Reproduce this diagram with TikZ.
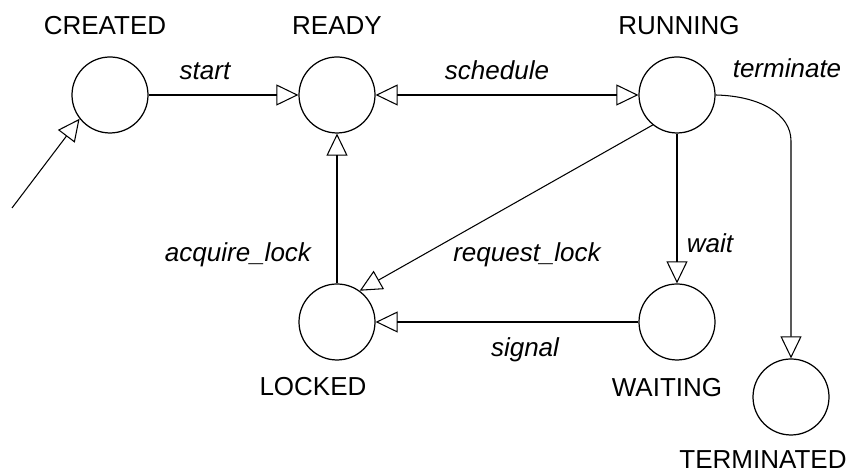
\documentclass[tikz,border=0pt]{standalone}
\usepackage{fontspec}
\setmainfont{Liberation Sans}
\usetikzlibrary{arrows.meta}

\begin{document}
\begin{tikzpicture}[
    every node/.style={font=\fontsize{14.8}{17}\selectfont},
    otri/.tip={Triangle[open, length=0.44cm, width=0.42cm]},
    state/.style={draw, circle, line width=0.7pt, minimum size=1.52cm, inner sep=0pt},
    sname/.style={anchor=base},
    elabel/.style={anchor=base, font=\fontsize{14.8}{17}\selectfont\itshape},
    trans/.style={line width=0.6pt, -otri}]
    \useasboundingbox (0, 0) rectangle (17, 9.48);
    % states
    \node[state] (created) at (2.2, 7.58) {};
    \node[state] (ready) at (6.74, 7.58) {};
    \node[state] (running) at (13.54, 7.58) {};
    \node[state] (locked) at (6.74, 3.04) {};
    \node[state] (waiting) at (13.54, 3.04) {};
    \node[state] (terminated) at (15.82, 1.54) {};
    \node[sname] (createdname) at (2.1, 8.78) {CREATED};
    \node[sname] (readyname) at (6.74, 8.78) {READY};
    \node[sname] (runningname) at (13.58, 8.78) {RUNNING};
    \node[sname] (lockedname) at (6.26, 1.56) {LOCKED};
    \node[sname] (waitingname) at (13.34, 1.54) {WAITING};
    \node[sname] (terminatedname) at (15.26, 0.1) {TERMINATED};
    % free end of the initial arrow, and where terminate turns down
    \coordinate (init) at (0.24, 5.32);
    \coordinate (bend) at (15.82, 6.66);
    % transitions
    \draw[trans] (init) -- (created.218);
    \draw[trans] (created.east) -- (ready.west);
    \draw[trans, otri-otri] (ready.east) -- (running.west);
    \draw[trans] (running.east) .. controls (15.2, 7.56) and (15.82, 7.2) .. (bend) -- (terminated.north);
    \draw[trans] (running.south) -- (waiting.north);
    \draw[trans] (running.231) -- (locked.54);
    \draw[trans] (waiting.west) -- (locked.east);
    \draw[trans] (locked.north) -- (ready.south);
    % transition labels
    \node[elabel] (lstart) at (4.1, 7.88) {start};
    \node[elabel] (lschedule) at (9.94, 7.88) {schedule};
    \node[elabel] (lterminate) at (15.74, 7.92) {terminate};
    \node[elabel] (lwait) at (14.2, 4.42) {wait};
    \node[elabel] (lacquire) at (4.76, 4.24) {acquire\_lock};
    \node[elabel] (lrequest) at (10.54, 4.24) {request\_lock};
    \node[elabel] (lsignal) at (10.5, 2.34) {signal};
\end{tikzpicture}
\end{document}
